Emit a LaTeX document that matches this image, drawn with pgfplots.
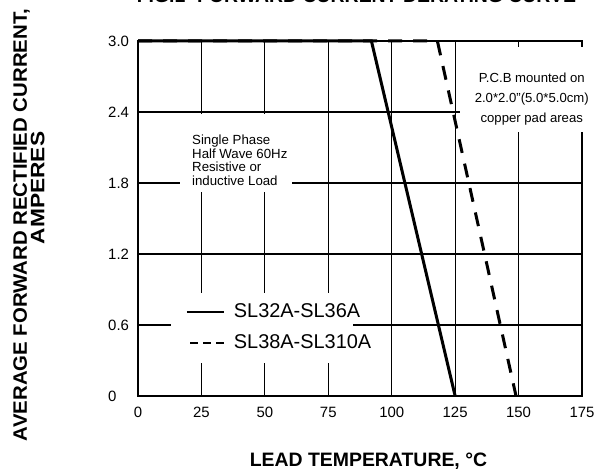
\documentclass[border=0pt]{standalone}
\usepackage{fontspec}
\setmainfont{Liberation Sans}
\newfontfamily\ylabfont[FakeStretch=1.05]{Liberation Sans}
\newfontfamily\ampfont[FakeStretch=1.17]{Liberation Sans}
\usepackage{pgfplots}
\pgfplotsset{compat=1.18}
\begin{document}
\begin{tikzpicture}
\begin{axis}[
  set layers,
  scale only axis, width=444bp, height=355bp,
  xmin=0, xmax=175, ymin=0, ymax=3,
  clip=false,
  xtick={0,25,50,75,100,125,150,175},
  xticklabels={0,25,50,75,100,125,150,175},
  ytick={0,0.6,1.2,1.8,2.4,3.0},
  yticklabels={0,0.6,1.2,1.8,2.4,3.0},
  major tick length=0pt,
  grid=major,
  major grid style={black, line width=1.2bp},
  axis line style={black, line width=1.3bp},
  tick label style={font=\fontsize{15}{17}\selectfont},
  xticklabel style={anchor=north, inner sep=0pt, yshift=-11bp},
  yticklabel style={anchor=west, inner sep=0pt, xshift=-30bp},
  xlabel={LEAD TEMPERATURE, °C},
  xlabel style={at={(rel axis cs:0.519,-0.2)}, anchor=base, font=\bfseries\fontsize{19.5}{21}\selectfont},
  ylabel={AVERAGE FORWARD RECTIFIED CURRENT,\\{\ampfont\hspace*{74bp}AMPERES}},
  ylabel style={at={(rel axis cs:-0.2455,0.4817)}, anchor=center, align=center, font=\ylabfont\bfseries\fontsize{19.5}{15}\selectfont},
  legend style={draw=none, fill=none, at={(rel axis cs:0.1074,0.2606)}, anchor=north west, inner sep=0pt,
    font=\fontsize{20}{24}\selectfont, row sep=14bp, column sep=9bp,
    nodes={inner sep=0pt, text height=14bp, text depth=3bp}},
  legend cell align=left,
  legend image code/.code={\draw[#1] (0bp,0bp) -- (37bp,0bp);},
]
\fill[white] (axis cs:16.55,1.724) rectangle (axis cs:60.7,2.383);
\fill[white] (axis cs:126.9,2.231) rectangle (axis cs:182,2.949);
\fill[white] (axis cs:13.0,0.279) rectangle (axis cs:84.7,0.870);
\node[anchor=north west, inner sep=0pt, align=left, font=\fontsize{13.3}{13.9}\selectfont] at (axis cs:21.28,2.210) {Single Phase\\Half Wave 60Hz\\Resistive or\\inductive Load};
\node[anchor=north, inner sep=0pt, align=center, font=\fontsize{13.2}{20}\selectfont] at (axis cs:155.2,2.728) {P.C.B mounted on\\2.0*2.0"(5.0*5.0cm)\\copper pad areas};
\node[anchor=base, inner sep=0pt, font=\bfseries\fontsize{19.5}{22}\selectfont] at (rel axis cs:0.492,1.108) {FIG.1- FORWARD CURRENT DERATING CURVE};
\addplot[black, line width=3bp, forget plot] coordinates {(0,3) (92,3) (125,0)};
\addplot[black, line width=3bp, dash pattern=on 14bp off 11bp, forget plot] coordinates {(0,3) (118,3) (149,0)};
\addlegendimage{black, line width=2bp}
\addlegendentry{SL32A-SL36A}
\addlegendimage{black, line width=2bp, dash pattern=on 7.5bp off 5.6bp, dash phase=9.8bp}
\addlegendentry{SL38A-SL310A}
\coordinate (ll) at (rel axis cs:0,0);
\coordinate (ur) at (rel axis cs:1,1);
\end{axis}
\pgfresetboundingbox
\path[use as bounding box] ([xshift=-138bp,yshift=-78bp]ll) rectangle ([xshift=14bp,yshift=41bp]ur);
\end{tikzpicture}
\end{document}
